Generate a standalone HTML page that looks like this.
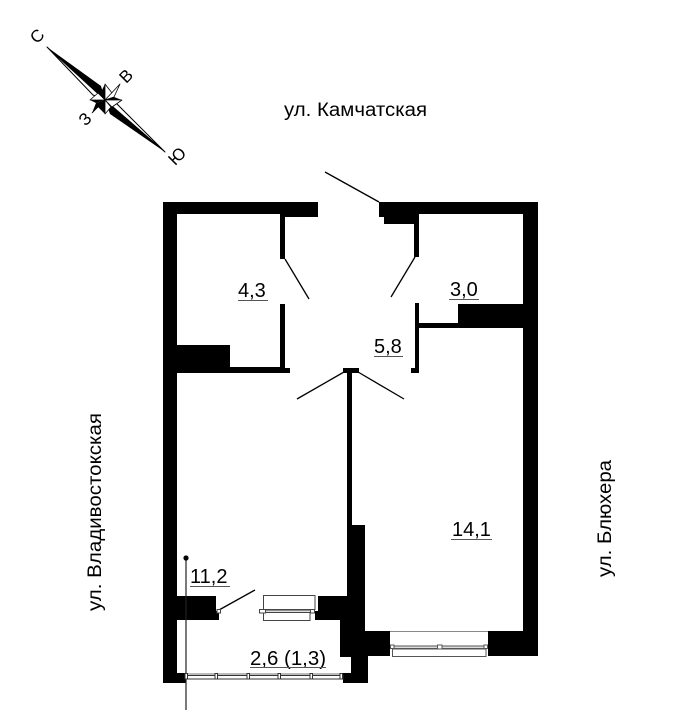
<!DOCTYPE html>
<html><head><meta charset="utf-8"><style>
html,body{margin:0;padding:0;background:#fff}
svg{display:block}
text{font-family:"Liberation Sans",sans-serif;fill:#000}
.n{font-size:20px}
</style></head><body>
<svg width="679" height="710" viewBox="0 0 679 710" xmlns="http://www.w3.org/2000/svg">
<!-- Walls -->
<g fill="#000">
<path d="M163 202H318V217H285V259H280V214H177V345H230V367H280V304H285V368H290V373H177V596H216V611H219V620H177V673H186V683H163Z"/>
<path d="M379 202H538V656H488V631H523V328H419V373H411V368H415V303H419V323H458V304H523V214H419V257H414V224H384V217H379Z"/>
<path d="M343 368H359V373H352V525H365V631H390V656H368V683H343V673H351V657H340V620H315V611H318V596H347V373H343Z"/>
</g>
<!-- Door lines -->
<g stroke="#000" stroke-width="1.3" fill="none">
<path d="M325 172L379 202"/>
<path d="M285 259L309 299"/>
<path d="M415 257L391 297"/>
<path d="M344 372L297 399"/>
<path d="M358 372L404 399"/>
<path d="M219 610L255 590"/>
</g>
<!-- Riser -->
<path d="M186 558V710" stroke="#222" stroke-width="1.2"/>
<circle cx="186" cy="558" r="2.6" fill="#000"/>
<!-- Balcony door window -->
<g fill="#fff" stroke="#444" stroke-width="1">
<rect x="263.5" y="595.5" width="51.5" height="14"/>
<rect x="263.5" y="612.5" width="46.5" height="8"/>
<rect x="262" y="610" width="50" height="2.5" fill="#ddd"/>
<rect x="259.5" y="609.5" width="6" height="3.5"/>
<rect x="310.500" y="609.500" width="4" height="3.500"/>
<rect x="217" y="609.5" width="3.5" height="3.5"/>
</g>
<!-- Room window -->
<g fill="#fff" stroke="#555" stroke-width="1">
<rect x="390" y="632" width="98" height="13.500" stroke="none"/>
<rect x="392.500" y="649" width="93.500" height="7.500"/>
<rect x="392" y="646" width="94" height="2.500" fill="#ddd"/>
<rect x="390.500" y="645" width="3.500" height="3.500"/>
<rect x="437.500" y="645" width="4.500" height="4"/>
<rect x="484" y="645" width="3.500" height="3.500"/>
</g>
<path d="M390 631.500H488" stroke="#888" stroke-width="1"/>
<!-- Balcony glazing -->
<rect x="186" y="673" width="157" height="2.500" fill="#bbb"/>
<rect x="186" y="675.500" width="157" height="3.500" fill="#fff" stroke="#333" stroke-width="1"/>
<g fill="#fff" stroke="#333" stroke-width="1">
<rect x="185" y="673.500" width="2.500" height="5.500"/>
<rect x="215" y="673.500" width="2.500" height="5.500"/>
<rect x="247" y="673.500" width="2.500" height="5.500"/>
<rect x="278" y="673.500" width="2.500" height="5.500"/>
<rect x="310" y="673.500" width="2.500" height="5.500"/>
<rect x="340" y="673.500" width="2.500" height="5.500"/>
</g>
<!-- Compass -->
<g stroke-linejoin="round">
<!-- north spike -->
<path d="M47 47L93 95L105 100Z" fill="#fff" stroke="#000" stroke-width="1"/>
<path d="M47 47L101 86L105 100Z" fill="#000"/>
<!-- south spike -->
<path d="M165 152L117 104L105 100Z" fill="#fff" stroke="#000" stroke-width="1"/>
<path d="M165 152L110 114L105 100Z" fill="#000"/>
<!-- star: 8 rays as pinwheel -->
<path d="M105 100L105 84L101 92Z" fill="#000"/>
<path d="M105 100L105 84L112 93Z" fill="#fff" stroke="#000" stroke-width=".8"/>
<path d="M105 100L120 84L112 93Z" fill="#000"/>
<path d="M105 100L120 84L114 97Z" fill="#fff" stroke="#000" stroke-width=".8"/>
<path d="M105 100L122 100L114 97Z" fill="#000"/>
<path d="M105 100L122 100L112 107Z" fill="#fff" stroke="#000" stroke-width=".8"/>
<path d="M105 100L105 114L111 107Z" fill="#fff" stroke="#000" stroke-width=".8"/>
<path d="M105 100L105 114L98 107Z" fill="#000"/>
<path d="M105 100L92 113L98 107Z" fill="#000" stroke="#000" stroke-width=".8"/>
<path d="M105 100L92 113L96 103Z" fill="#000"/>
<path d="M105 100L90 100L96 103Z" fill="#000"/>
<path d="M105 100L90 100L98 93Z" fill="#fff" stroke="#000" stroke-width=".8"/>
</g>
<g font-size="17">
<text transform="translate(38 37) rotate(-45)" text-anchor="middle" dominant-baseline="middle">С</text>
<text transform="translate(127 77) rotate(-45)" text-anchor="middle" dominant-baseline="middle">В</text>
<text transform="translate(86 120) rotate(-45)" text-anchor="middle" dominant-baseline="middle">З</text>
<text transform="translate(178 157) rotate(-45)" text-anchor="middle" dominant-baseline="middle">Ю</text>
</g>
<!-- Street labels -->
<text x="284" y="116" font-size="19" textLength="143" lengthAdjust="spacingAndGlyphs">ул. Камчатская</text>
<text transform="translate(101 611) rotate(-90)" font-size="19" textLength="198" lengthAdjust="spacingAndGlyphs">ул. Владивостокская</text>
<text transform="translate(611 577) rotate(-90)" font-size="19" textLength="117" lengthAdjust="spacingAndGlyphs">ул. Блюхера</text>
<!-- Room labels -->
<g>
<text x="238" y="297" class="n">4,3</text>
<text x="450" y="296" class="n">3,0</text>
<text x="374" y="353" class="n">5,8</text>
<text x="452" y="536" class="n">14,1</text>
<text x="190" y="583" class="n">11,2</text>
<text x="250" y="665" class="n" textLength="76" lengthAdjust="spacingAndGlyphs">2,6 (1,3)</text>
</g>
<g stroke="#555" stroke-width="1">
<path d="M238 300.500H268"/>
<path d="M449 299.500H479"/>
<path d="M374 356.500H403"/>
<path d="M451 539.500H492"/>
<path d="M190 586.500H230"/>
<path d="M250 667.500H326"/>
</g>
</svg>
</body></html>
